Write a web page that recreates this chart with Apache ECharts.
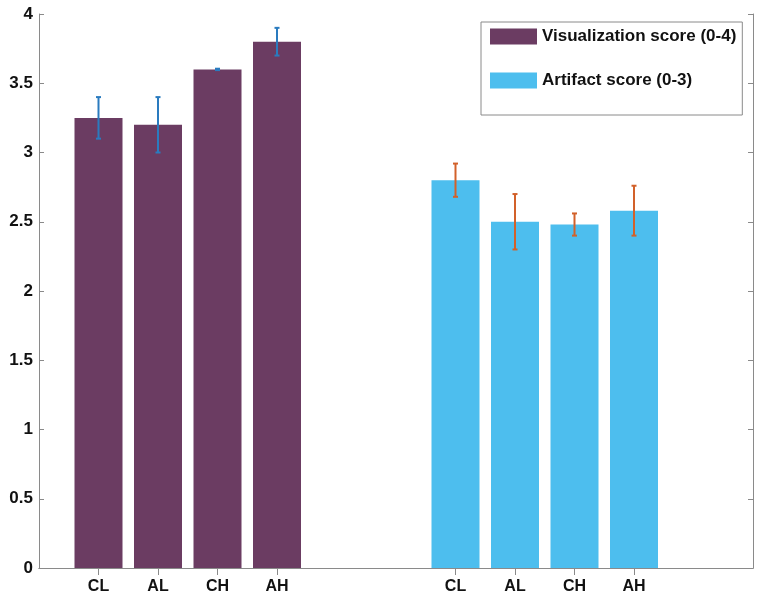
<!DOCTYPE html>
<html><head><meta charset="utf-8">
<script src="https://cdn.jsdelivr.net/npm/echarts@6/dist/echarts.min.js"></script>
<style>html,body{margin:0;padding:0;background:#fff}#c{width:764px;height:601px}</style>
</head><body><div id="c"></div>
<script>
const categories = ['CL','AL','CH','AH'];
const seriesNames = ['Visualization score (0-4)','Artifact score (0-3)'];
const visValues = [3.25, 3.20, 3.60, 3.80];
const visLow = [3.10, 3.00, 3.595, 3.70];
const visHigh = [3.40, 3.40, 3.605, 3.90];
const artValues = [2.80, 2.50, 2.48, 2.58];
const artLow = [2.68, 2.30, 2.40, 2.40];
const artHigh = [2.92, 2.70, 2.56, 2.76];
const yTicks = [0, 0.5, 1, 1.5, 2, 2.5, 3, 3.5, 4];

// slots 0..12 ; group 1 at slots 1-4, group 2 at slots 7-10
const nSlots = 13;
const g1Start = 1, g2Start = 7;
const slotLabels = new Array(nSlots).fill('');
categories.forEach((c,i)=>{ slotLabels[g1Start+i]=c; slotLabels[g2Start+i]=c; });
const slotKeys = slotLabels.map((_,i)=>String(i));

const visData = new Array(nSlots).fill('-');
const artData = new Array(nSlots).fill('-');
categories.forEach((c,i)=>{ visData[g1Start+i]=visValues[i]; artData[g2Start+i]=artValues[i]; });
const visErr = categories.map((c,i)=>[g1Start+i, visLow[i], visHigh[i]]);
const artErr = categories.map((c,i)=>[g2Start+i, artLow[i], artHigh[i]]);

const axisColor = '#8a8a8a';
const font = 'Liberation Sans, Arial, sans-serif';

function errRender(color){
  return function(params, api){
    const x = api.value(0);
    const p1 = api.coord([x, api.value(1)]);
    const p2 = api.coord([x, api.value(2)]);
    const cw = 2.5;
    const st = {stroke: color, lineWidth: 2};
    return {type:'group', children:[
      {type:'line', shape:{x1:p1[0],y1:p1[1],x2:p2[0],y2:p2[1]}, style:st},
      {type:'line', shape:{x1:p1[0]-cw,y1:p1[1],x2:p1[0]+cw,y2:p1[1]}, style:st},
      {type:'line', shape:{x1:p2[0]-cw,y1:p2[1],x2:p2[0]+cw,y2:p2[1]}, style:st}
    ]};
  };
}

const chart = echarts.init(document.getElementById('c'), null, {renderer:'canvas'});
const tickShow = (idx)=> slotLabels[idx] !== '';
chart.setOption({
  animation:false,
  backgroundColor:'#fff',
  grid:{left:39, right:11, top:14, bottom:33, containLabel:false},
  legend:{
    orient:'vertical', left:481, top:22,
    data: seriesNames,
    itemWidth:47, itemHeight:16, itemGap:27,
    padding:[6,6,26,9],
    borderColor:'#8a8a8a', borderWidth:1, backgroundColor:'#fff',
    textStyle:{fontFamily:font, fontWeight:'bold', fontSize:17, color:'#111'},
    itemStyle:{borderWidth:0},
    icon:'rect'
  },
  xAxis:[
    {type:'category', data:slotKeys, boundaryGap:false, position:'bottom',
     axisLine:{lineStyle:{color:axisColor, width:1}},
     axisTick:{inside:true, length:7, interval:tickShow, lineStyle:{color:axisColor}},
     axisLabel:{interval:tickShow, formatter:(v)=>slotLabels[+v], margin:11,
       fontFamily:font, fontWeight:'bold', fontSize:16, color:'#111'},
     splitLine:{show:false}},
    {type:'category', data:slotKeys, boundaryGap:false, position:'top',
     axisLine:{lineStyle:{color:axisColor, width:1}},
     axisTick:{inside:true, length:7, interval:tickShow, lineStyle:{color:axisColor}},
     axisLabel:{show:false}, splitLine:{show:false}}
  ],
  yAxis:[
    {type:'value', min:0, max:4, interval:0.5, position:'left',
     axisLine:{show:true, lineStyle:{color:axisColor, width:1}},
     axisTick:{show:true, inside:true, length:5, lineStyle:{color:axisColor}},
     axisLabel:{margin:6, fontFamily:font, fontWeight:'bold', fontSize:17, color:'#111',
       formatter:(v)=>String(v)},
     splitLine:{show:false}},
    {type:'value', min:0, max:4, interval:0.5, position:'right',
     axisLine:{show:true, lineStyle:{color:axisColor, width:1}},
     axisTick:{show:true, inside:true, length:5, lineStyle:{color:axisColor}},
     axisLabel:{show:false}, splitLine:{show:false}}
  ],
  series:[
    {name:seriesNames[0], type:'bar', data:visData, barWidth:48, barGap:'-100%',
     itemStyle:{color:'#6b3c62'}},
    {name:seriesNames[1], type:'bar', data:artData, barWidth:48, barGap:'-100%',
     itemStyle:{color:'#4dbeee'}},
    {type:'custom', data:visErr, encode:{x:0, y:[1,2]}, renderItem:errRender('#2a7bbf'), z:5},
    {type:'custom', data:artErr, encode:{x:0, y:[1,2]}, renderItem:errRender('#d2612a'), z:5}
  ]
});
</script></body></html>
